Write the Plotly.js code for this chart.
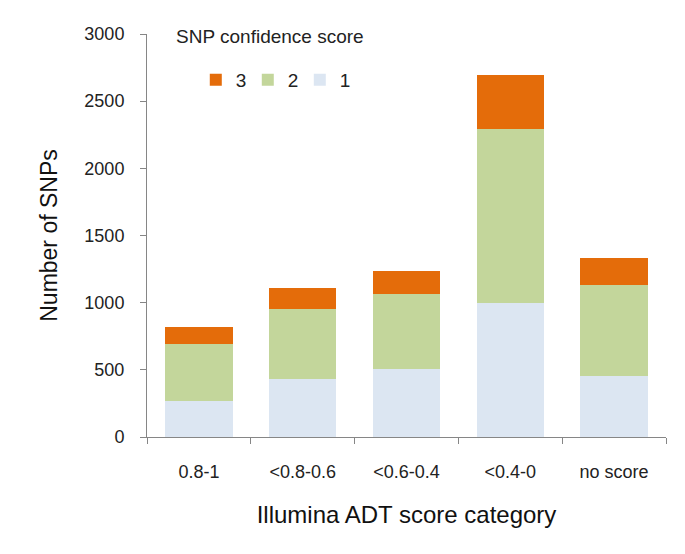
<!DOCTYPE html>
<html>
<head>
<meta charset="utf-8">
<script src="https://cdn.plot.ly/plotly-3.0.1.min.js"></script>
<style>html,body{margin:0;padding:0;background:#fff;}#chart{width:685px;height:554px;}</style>
</head>
<body>
<div id="chart"></div>
<script>
const categories = ["0.8-1", "<0.8-0.6", "<0.6-0.4", "<0.4-0", "no score"];
const score1 = [268, 434, 506, 998, 451];
const score2 = [424, 516, 559, 1295, 678];
const score3 = [129, 159, 173, 399, 204];
const seriesNames = ["1", "2", "3"];
const seriesColors = ["#DCE6F2", "#C3D69B", "#E46C0A"];
const yTicks = [0, 500, 1000, 1500, 2000, 2500, 3000];
const legendTitle = "SNP confidence score";

const allSeries = [score1, score2, score3];
const traces = allSeries.map((vals, i) => ({
  type: "bar",
  x: categories,
  y: vals,
  name: seriesNames[i],
  marker: {color: seriesColors[i], line: {width: 0}},
  hoverinfo: "x+y+name"
}));

const font = "Liberation Sans, Arial, sans-serif";
const layout = {
  width: 685,
  height: 554,
  barmode: "stack",
  bargap: 0.35,
  paper_bgcolor: "#ffffff",
  plot_bgcolor: "#ffffff",
  margin: {l: 147, r: 19, t: 34, b: 117},
  font: {family: font, color: "#222", size: 18},
  xaxis: {
    type: "category",
    tickson: "boundaries",
    ticks: "outside",
    ticklen: 6,
    tickcolor: "#868686",
    showline: true,
    linecolor: "#868686",
    linewidth: 1,
    showgrid: false,
    zeroline: false,
    ticklabelstandoff: 18,
    tickfont: {size: 18, family: font, color: "#222"},
    title: {text: "Illumina ADT score category", font: {size: 24, family: font, color: "#111"}, standoff: 25}
  },
  yaxis: {
    range: [0, 3000],
    tickvals: yTicks,
    ticks: "outside",
    ticklen: 6,
    tickcolor: "#868686",
    showline: true,
    linecolor: "#868686",
    linewidth: 1,
    showgrid: false,
    zeroline: false,
    ticklabelstandoff: 12,
    tickfont: {size: 18, family: font, color: "#222"},
    title: {text: "Number of SNPs", font: {size: 23, family: font, color: "#111"}, standoff: 20}
  },
  showlegend: true,
  legend: {
    orientation: "h",
    traceorder: "reversed",
    x: 0.094,
    xanchor: "left",
    y: 0.886,
    yanchor: "middle",
    bgcolor: "rgba(0,0,0,0)",
    font: {size: 19, family: font, color: "#222"},
    itemwidth: 30,
    entrywidth: 7
  },
  annotations: [{
    text: legendTitle,
    xref: "paper", yref: "paper",
    x: (270 - 147) / 519, y: (437 - 37) / 403,
    xanchor: "center", yanchor: "middle",
    showarrow: false,
    font: {size: 19, family: font, color: "#222"}
  }]
};

Plotly.newPlot("chart", traces, layout, {displayModeBar: false, staticPlot: true});
</script>
</body>
</html>
